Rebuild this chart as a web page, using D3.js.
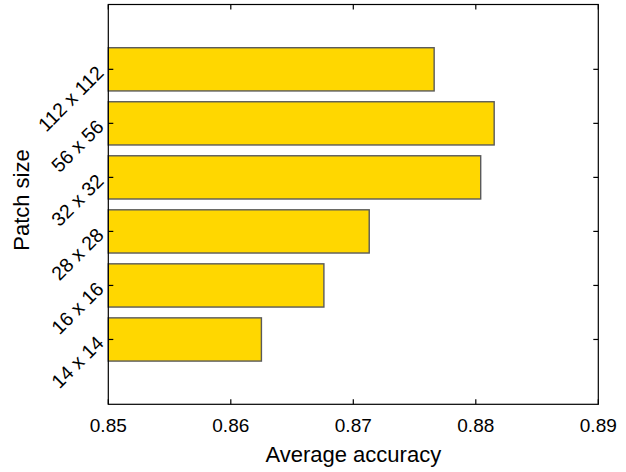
<!DOCTYPE html>
<html>
<head>
<meta charset="utf-8">
<script src="https://cdn.jsdelivr.net/npm/d3@7"></script>
<style>
  html, body { margin: 0; padding: 0; background: #fff; }
  svg { display: block; font-family: "Liberation Sans", Arial, sans-serif; }
</style>
</head>
<body>
<svg id="chart" width="626" height="472"></svg>
<script>
// Patch sizes, bottom to top
const categories = ["14 x 14", "16 x 16", "28 x 28", "32 x 32", "56 x 56", "112 x 112"];
const accuracy = [0.8625, 0.8676, 0.8713, 0.8804, 0.8815, 0.8766];
const xTicks = [0.85, 0.86, 0.87, 0.88, 0.89];

const svg = d3.select("#chart");
const plotLeft = 108.3, plotRight = 598.3, plotTop = 4.5, plotBottom = 404.3;

const x = d3.scaleLinear().domain([0.85, 0.89]).range([plotLeft, plotRight]);
const y = d3.scaleLinear().domain([-0.2, 7.2]).range([plotBottom, plotTop]);
const barH = (y(0) - y(0.8));

// bars
svg.append("g").selectAll("rect")
  .data(accuracy)
  .join("rect")
  .attr("x", x(0.85))
  .attr("y", (d, i) => y(i + 1) - barH / 2)
  .attr("width", d => x(d) - x(0.85))
  .attr("height", barH)
  .attr("fill", "#FFD700")
  .attr("stroke", "#5a5a5a")
  .attr("stroke-width", 1.4);

// axes box
const axisG = svg.append("g").attr("stroke", "#000").attr("stroke-width", 1.2).attr("fill", "none");
axisG.append("rect")
  .attr("x", plotLeft).attr("y", plotTop)
  .attr("width", plotRight - plotLeft).attr("height", plotBottom - plotTop);

const tickLen = 5;
// x ticks (bottom and top, pointing inward)
xTicks.forEach(t => {
  axisG.append("line").attr("x1", x(t)).attr("x2", x(t)).attr("y1", plotBottom).attr("y2", plotBottom - tickLen);
  axisG.append("line").attr("x1", x(t)).attr("x2", x(t)).attr("y1", plotTop).attr("y2", plotTop + tickLen);
});
// y ticks (left and right, pointing inward)
categories.forEach((c, i) => {
  const yy = y(i + 1);
  axisG.append("line").attr("x1", plotLeft).attr("x2", plotLeft + tickLen).attr("y1", yy).attr("y2", yy);
  axisG.append("line").attr("x1", plotRight).attr("x2", plotRight - tickLen).attr("y1", yy).attr("y2", yy);
});

// x tick labels
svg.append("g").selectAll("text")
  .data(xTicks)
  .join("text")
  .attr("x", d => x(d))
  .attr("y", 432)
  .attr("text-anchor", "middle")
  .attr("font-size", 19)
  .attr("fill", "#000")
  .text(d => d3.format(".2f")(d));

// y tick labels, rotated
svg.append("g").selectAll("text")
  .data(categories)
  .join("text")
  .attr("transform", (d, i) => `translate(100,${y(i + 1)}) rotate(-45)`)
  .attr("dy", "0.35em")
  .attr("text-anchor", "end")
  .attr("font-size", 19.5)
  .attr("fill", "#000")
  .text(d => d);

// axis titles
svg.append("text")
  .attr("x", (plotLeft + plotRight) / 2)
  .attr("y", 462)
  .attr("text-anchor", "middle")
  .attr("font-size", 22)
  .attr("fill", "#000")
  .text("Average accuracy");

svg.append("text")
  .attr("transform", "translate(28.5,200) rotate(-90)")
  .attr("text-anchor", "middle")
  .attr("font-size", 22)
  .attr("fill", "#000")
  .text("Patch size");
</script>
</body>
</html>
